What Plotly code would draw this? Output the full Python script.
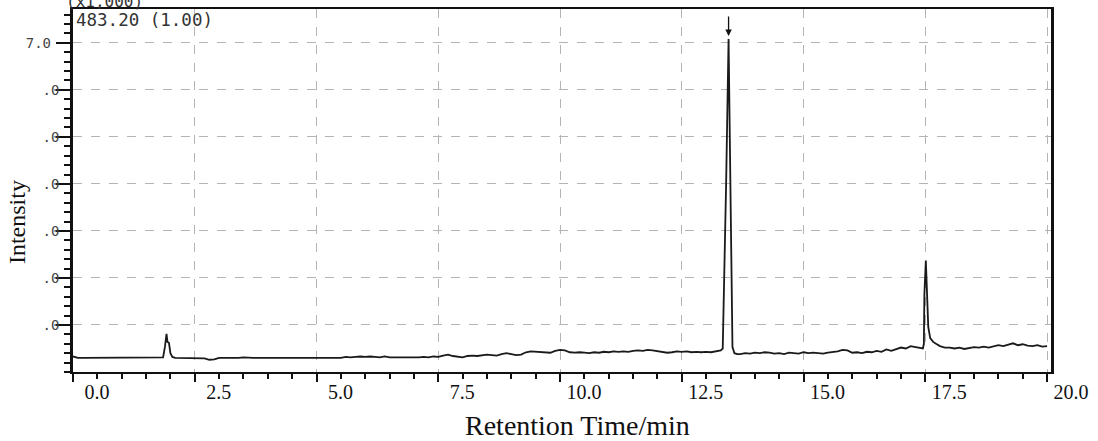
import plotly.graph_objects as go

# ---------------- data ----------------
seg0_t = [0.0, 0.1, 0.2, 0.3, 0.4, 0.5, 0.6, 0.7, 0.8, 0.9, 1.0, 1.1, 1.2, 1.3, 1.4, 1.5, 1.6, 1.7, 1.8]
seg0_y = [0.33, 0.30, 0.30, 0.30, 0.31, 0.30, 0.30, 0.30, 0.30, 0.31, 0.30, 0.30, 0.30, 0.30, 0.30, 0.31, 0.30, 0.30, 0.30]

peak1_t = [1.85, 1.89, 1.92, 1.94, 1.97, 2.00, 2.04]
peak1_y = [0.31, 0.55, 0.81, 0.64, 0.62, 0.40, 0.32]

seg1_t = [2.1, 2.2, 2.3, 2.4, 2.5, 2.6, 2.7, 2.8, 2.9, 3.0,
          3.1, 3.2, 3.3, 3.4, 3.5, 3.6, 3.7, 3.8, 3.9, 4.0,
          4.1, 4.2, 4.3, 4.4, 4.5, 4.6, 4.7, 4.8, 4.9, 5.0,
          5.1, 5.2, 5.3, 5.4, 5.5, 5.6, 5.7, 5.8, 5.9, 6.0,
          6.1, 6.2, 6.3, 6.4, 6.5, 6.6, 6.7, 6.8, 6.9, 7.0,
          7.1, 7.2, 7.3, 7.4, 7.5, 7.6, 7.7, 7.8, 7.9, 8.0,
          8.1, 8.2, 8.3, 8.4, 8.5, 8.6, 8.7, 8.8, 8.9, 9.0,
          9.1, 9.2, 9.3, 9.4, 9.5, 9.6, 9.7, 9.8, 9.9, 10.0,
          10.1, 10.2, 10.3, 10.4, 10.5, 10.6, 10.7, 10.8, 10.9, 11.0,
          11.1, 11.2, 11.3, 11.4, 11.5, 11.6, 11.7, 11.8, 11.9, 12.0,
          12.1, 12.2, 12.3, 12.4, 12.5, 12.6, 12.7, 12.8, 12.9, 13.0,
          13.1, 13.2, 13.3]
seg1_y = [0.30, 0.30, 0.30, 0.30, 0.30, 0.30, 0.29, 0.26, 0.27, 0.30,
          0.30, 0.29, 0.30, 0.30, 0.31, 0.30, 0.30, 0.30, 0.30, 0.30,
          0.31, 0.30, 0.30, 0.30, 0.30, 0.31, 0.30, 0.30, 0.30, 0.30,
          0.31, 0.30, 0.30, 0.31, 0.30, 0.32, 0.31, 0.32, 0.33, 0.32,
          0.33, 0.32, 0.31, 0.33, 0.31, 0.31, 0.31, 0.30, 0.31, 0.31,
          0.31, 0.32, 0.31, 0.33, 0.32, 0.35, 0.37, 0.34, 0.33, 0.31,
          0.34, 0.35, 0.34, 0.36, 0.37, 0.36, 0.35, 0.38, 0.40, 0.38,
          0.36, 0.37, 0.42, 0.44, 0.43, 0.43, 0.42, 0.41, 0.45, 0.47,
          0.46, 0.42, 0.41, 0.42, 0.41, 0.40, 0.42, 0.41, 0.43, 0.42,
          0.44, 0.43, 0.44, 0.43, 0.45, 0.46, 0.45, 0.47, 0.46, 0.44,
          0.43, 0.41, 0.42, 0.44, 0.43, 0.44, 0.42, 0.43, 0.42, 0.43,
          0.42, 0.44, 0.46]

peak2_t = [13.34, 13.35, 13.41, 13.46, 13.50, 13.52, 13.54, 13.58, 13.64]
peak2_y = [0.50, 0.96, 4.02, 7.08, 4.02, 1.60, 0.53, 0.40, 0.38]

seg2_t = [13.7, 13.8, 13.9, 14.0, 14.1, 14.2, 14.3, 14.4, 14.5, 14.6,
          14.7, 14.8, 14.9, 15.0, 15.1, 15.2, 15.3, 15.4, 15.5, 15.6,
          15.7, 15.8, 15.9, 16.0, 16.1, 16.2, 16.3, 16.4, 16.5, 16.6,
          16.7, 16.8, 16.9, 17.0, 17.1, 17.2, 17.3, 17.4]
seg2_y = [0.38, 0.40, 0.39, 0.41, 0.40, 0.42, 0.41, 0.39, 0.40, 0.38,
          0.41, 0.40, 0.39, 0.42, 0.40, 0.41, 0.40, 0.39, 0.41, 0.42,
          0.44, 0.47, 0.46, 0.41, 0.42, 0.40, 0.43, 0.42, 0.45, 0.43,
          0.48, 0.45, 0.49, 0.52, 0.50, 0.55, 0.53, 0.50]

peak3_t = [17.45, 17.47, 17.48, 17.51, 17.53, 17.55, 17.56, 17.60, 17.66, 17.72, 17.80, 17.90]
peak3_y = [0.50, 0.60, 1.64, 2.37, 1.77, 1.60, 0.96, 0.72, 0.64, 0.60, 0.55, 0.52]

seg3_t = [18.0, 18.1, 18.2, 18.3, 18.4, 18.5, 18.6, 18.7, 18.8, 18.9,
          19.0, 19.1, 19.2, 19.3, 19.4, 19.5, 19.6, 19.7, 19.8, 19.9, 20.0]
seg3_y = [0.52, 0.50, 0.52, 0.49, 0.51, 0.53, 0.52, 0.54, 0.52, 0.55,
          0.57, 0.55, 0.58, 0.61, 0.57, 0.59, 0.56, 0.55, 0.57, 0.54, 0.55]

x_tick_vals = [0.0, 2.5, 5.0, 7.5, 10.0, 12.5, 15.0, 17.5, 20.0]
x_tick_text = ["0.0", "2.5", "5.0", "7.5", "10.0", "12.5", "15.0", "17.5", "20.0"]
y_tick_vals = [1, 2, 3, 4, 5, 6, 7]
y_tick_text = [".0", ".0", ".0", ".0", ".0", ".0", "7.0\u00a0"]

header_text = "483.20 (1.00)"
scale_text = "(x1,000)"
x_title = "Retention Time/min"
y_title = "Intensity"

# ---------------- assemble ----------------
retention_time = seg0_t + peak1_t + seg1_t + peak2_t + seg2_t + peak3_t + seg3_t
intensity = seg0_y + peak1_y + seg1_y + peak2_y + seg2_y + peak3_y + seg3_y
assert len(retention_time) == len(intensity)

peak_idx = max(range(len(intensity)), key=lambda i: intensity[i])

fig = go.Figure()
fig.add_trace(go.Scatter(
    x=retention_time, y=intensity, mode="lines",
    line=dict(color="#1a1a1a", width=1.8),
    showlegend=False, hoverinfo="x+y",
))

serif = "Liberation Serif, Times New Roman, serif"
mono = "DejaVu Sans Mono, Liberation Mono, monospace"

fig.update_layout(
    width=1098, height=441,
    margin=dict(l=73, r=47, t=9, b=69),
    paper_bgcolor="white", plot_bgcolor="white",
    xaxis=dict(
        range=[0, 20.08], automargin=False,
        tickmode="array", tickvals=x_tick_vals, ticktext=x_tick_text,
        ticks="outside", ticklen=8, tickwidth=1.5, tickcolor="#111",
        ticklabelshift=24, ticklabelstandoff=-7,
        showline=True, linecolor="#111", linewidth=2, mirror=True,
        showgrid=True, gridcolor="#b4b4b4", gridwidth=1, griddash="dash",
        zeroline=False,
        tickfont=dict(family=serif, size=20, color="#111"),
        minor=dict(tickmode="linear", tick0=0, dtick=0.5, ticks="outside", ticklen=5,
                   tickwidth=1.5, tickcolor="#111", showgrid=False),
    ),
    yaxis=dict(
        range=[0, 7.72], automargin=False,
        tickmode="array", tickvals=y_tick_vals, ticktext=y_tick_text,
        ticks="outside", ticklen=14, tickwidth=1.5, tickcolor="#111",
        ticklabelstandoff=-6,
        showline=True, linecolor="#111", linewidth=2.5, mirror=True,
        showgrid=True, gridcolor="#b4b4b4", gridwidth=1, griddash="dash",
        zeroline=False,
        tickfont=dict(family=mono, size=14, color="#444"),
        minor=dict(tickmode="linear", tick0=0, dtick=0.2, ticks="outside", ticklen=6,
                   tickwidth=1.5, tickcolor="#111", showgrid=False),
    ),
    annotations=[
        dict(text=x_title, xref="paper", yref="paper", x=0.516, y=0,
             xanchor="center", yanchor="middle", yshift=-53, showarrow=False,
             font=dict(family=serif, size=28, color="#111")),
        dict(text=y_title, xref="paper", yref="paper", x=0, y=0.413,
             xanchor="center", yanchor="middle", xshift=-56, textangle=-90, showarrow=False,
             font=dict(family=serif, size=24, color="#111")),
        dict(text=header_text, xref="paper", yref="paper", x=0, y=1,
             xanchor="left", yanchor="top", xshift=1, yshift=1, showarrow=False,
             font=dict(family=mono, size=17.5, color="#333")),
        dict(text=scale_text, xref="paper", yref="paper", x=0, y=1,
             xanchor="left", yanchor="bottom", xshift=-9, yshift=-4, showarrow=False,
             font=dict(family=mono, size=16, color="#333")),
        dict(text="", x=retention_time[peak_idx], y=intensity[peak_idx],
             xref="x", yref="y", showarrow=True, arrowhead=2, arrowsize=1,
             arrowwidth=1.3, arrowcolor="#111", ax=0, ay=-24, standoff=3),
    ],
)

fig.write_html("out.html", config={"displayModeBar": False},
               post_script="document.body.style.margin='0';")
